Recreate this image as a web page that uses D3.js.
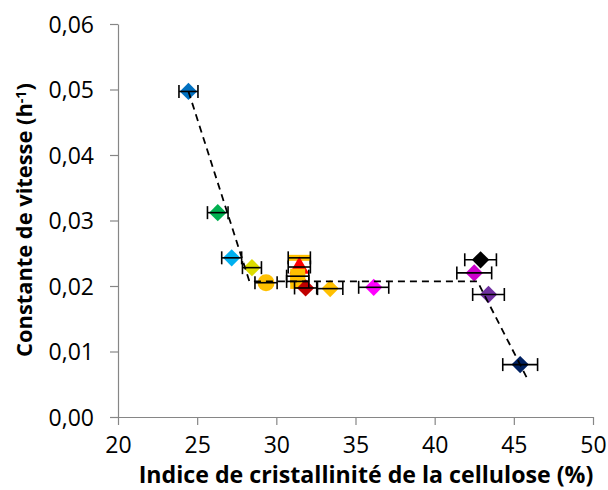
<!DOCTYPE html>
<html>
<head>
<meta charset="utf-8">
<script src="https://cdn.jsdelivr.net/npm/d3@7"></script>
<style>
  body { margin: 0; background: #fff; }
  svg { display: block; }
</style>
</head>
<body>
<script>
// Données
let cristallinite = [24.45, 26.3, 27.18, 28.46, 29.35, 31.45, 31.45, 31.35, 31.35, 31.85, 33.4, 36.15, 42.9, 42.5, 43.4, 45.4];
let vitesse       = [0.0497, 0.0312, 0.0243, 0.0228, 0.0205, 0.0243, 0.0229, 0.0215, 0.0207, 0.0197, 0.0196, 0.0198, 0.0240, 0.0220, 0.0187, 0.0080];
let erreurX       = [0.6, 0.65, 0.63, 0.6, 0.7, 0.7, 0.7, 0.7, 0.7, 0.7, 0.8, 0.95, 1.0, 1.1, 1.0, 1.1];
let symboles      = ['diamond', 'diamond', 'diamond', 'diamond', 'circle', 'dash', 'triangle', 'square', 'square', 'diamond', 'diamond', 'diamond', 'diamond', 'diamond', 'diamond', 'diamond'];
let couleurs      = ['#0070C0', '#00B050', '#00B0F0', '#DCDC00', '#FFC000', '#FFC000', '#FF0000', '#FFC000', '#FFC000', '#C00000', '#FFC000', '#FF00FF', '#000000', '#CC00CC', '#7030A0', '#002060'];

// courbe de tendance (pointillés)
let tendanceX = [24.45, 28.3, 42.7, 45.8];
let tendanceY = [0.0497, 0.0207, 0.0207, 0.0061];

let ticksX = [20, 25, 30, 35, 40, 45, 50];
let ticksY = [0, 0.01, 0.02, 0.03, 0.04, 0.05, 0.06];

let w = 608, h = 490;
let margin = {left: 118, right: 15, top: 24, bottom: 73};

let xScale = d3.scaleLinear().domain([20, 50]).range([margin.left, w - margin.right]);
let yScale = d3.scaleLinear().domain([0, 0.06]).range([h - margin.bottom, margin.top]);

let svg = d3.select('body').append('svg')
  .attr('width', w)
  .attr('height', h)
  .style('font-family', '"Open Sans", sans-serif');

let fmt = d3.format('.2f');

let xAxis = d3.axisBottom(xScale).tickValues(ticksX).tickSize(8).tickSizeOuter(0).tickPadding(12).tickFormat(d3.format('d'));
let yAxis = d3.axisLeft(yScale).tickValues(ticksY).tickSize(8).tickSizeOuter(0).tickPadding(16)
  .tickFormat(d => fmt(d).replace('.', ','));

let gx = svg.append('g')
  .attr('transform', 'translate(0,' + yScale(0) + ')')
  .call(xAxis);
let gy = svg.append('g')
  .attr('transform', 'translate(' + xScale(20) + ',0)')
  .call(yAxis);

[gx, gy].forEach(g => {
  g.selectAll('path, line').attr('stroke', '#868686').attr('stroke-width', 1.2);
  g.selectAll('text').attr('fill', '#000').style('font-size', '23px').style('font-family', '"Open Sans", sans-serif');
});
gy.selectAll('text').attr('dy', '0.36em');

// marqueurs
let pts = cristallinite.map((c, i) => ({x: c, y: vitesse[i], e: erreurX[i], s: symboles[i], col: couleurs[i]}));

let markers = svg.append('g');
pts.forEach(p => {
  let cx = xScale(p.x), cy = yScale(p.y);
  if (p.s === 'diamond') {
    markers.append('path')
      .attr('d', d3.symbol().type(d3.symbolSquare).size(150)())
      .attr('transform', 'translate(' + cx + ',' + cy + ') rotate(45)')
      .attr('fill', p.col);
  } else if (p.s === 'circle') {
    markers.append('circle').attr('cx', cx).attr('cy', cy).attr('r', 8.5).attr('fill', p.col);
  } else if (p.s === 'square') {
    markers.append('rect').attr('x', cx - 7.5).attr('y', cy - 7.5).attr('width', 15).attr('height', 15).attr('fill', p.col);
  } else if (p.s === 'triangle') {
    markers.append('path')
      .attr('d', d3.symbol().type(d3.symbolTriangle).size(170)())
      .attr('transform', 'translate(' + cx + ',' + (cy + 1) + ')')
      .attr('fill', p.col);
  } else if (p.s === 'dash') {
    markers.append('rect').attr('x', cx - 11).attr('y', cy - 3).attr('width', 22).attr('height', 6).attr('fill', p.col);
  }
});

// barres d'erreur horizontales
let err = svg.append('g').attr('stroke', '#000').attr('stroke-width', 1.6);
pts.forEach(p => {
  let cy = yScale(p.y);
  let x0 = xScale(p.x - p.e), x1 = xScale(p.x + p.e);
  err.append('line').attr('x1', x0).attr('x2', x1).attr('y1', cy).attr('y2', cy);
  err.append('line').attr('x1', x0).attr('x2', x0).attr('y1', cy - 6.5).attr('y2', cy + 6.5);
  err.append('line').attr('x1', x1).attr('x2', x1).attr('y1', cy - 6.5).attr('y2', cy + 6.5);
});

// tendance
let line = d3.line().x(d => xScale(d[0])).y(d => yScale(d[1]));
svg.append('path')
  .datum(tendanceX.map((x, i) => [x, tendanceY[i]]))
  .attr('d', line)
  .attr('fill', 'none')
  .attr('stroke', '#000')
  .attr('stroke-width', 1.8)
  .attr('stroke-dasharray', '7,5');

// titres des axes
let fitText = (t, target) => {
  let size = 20;
  t.style('font-size', size + 'px');
  let len = t.node().getComputedTextLength();
  t.style('font-size', (size * target / len) + 'px');
};

let tx = svg.append('text')
  .attr('x', 366)
  .attr('y', 483)
  .attr('text-anchor', 'middle')
  .style('font-weight', 'bold')
  .text('Indice de cristallinité de la cellulose (%)');
fitText(tx, 455);

let ty = svg.append('text')
  .attr('transform', 'translate(32,220) rotate(-90)')
  .attr('text-anchor', 'middle')
  .style('font-weight', 'bold');
ty.append('tspan').text('Constante de vitesse (h');
ty.append('tspan').attr('dy', '-0.45em').style('font-size', '0.65em').text('-1');
ty.append('tspan').attr('dy', '0.3em').text(')');
fitText(ty, 274);
</script>
</body>
</html>
